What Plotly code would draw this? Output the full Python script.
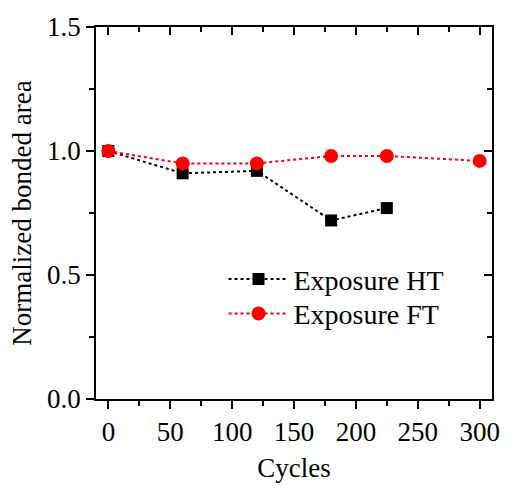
import plotly.graph_objects as go

# Bonded-area retention under two exposure regimes
cycles_ht = [0, 60, 120, 180, 225]
area_ht = [1.00, 0.91, 0.92, 0.72, 0.77]

cycles_ft = [0, 60, 120, 180, 225, 300]
area_ft = [1.00, 0.95, 0.95, 0.98, 0.98, 0.96]

x_ticks = [0, 50, 100, 150, 200, 250, 300]
y_ticks = [0.0, 0.5, 1.0, 1.5]
y_tick_text = ["0.0", "0.5", "1.0", "1.5"]

FONT = "Liberation Serif, Times New Roman, serif"
X_RANGE = [-10, 310]
Y_RANGE = [0, 1.5]

fig = go.Figure()
fig.add_trace(go.Scatter(
    x=cycles_ht, y=area_ht, name="Exposure HT", mode="lines+markers",
    line=dict(color="black", width=2, dash="dot"),
    marker=dict(symbol="square", size=12, color="black"),
    legend="legend",
))
fig.add_trace(go.Scatter(
    x=cycles_ft, y=area_ft, name="Exposure FT", mode="lines+markers",
    line=dict(color="red", width=2, dash="dot"),
    marker=dict(symbol="circle", size=14, color="red"),
    legend="legend2",
))
# empty trace to bring the top/right frame axes into the figure
fig.add_trace(go.Scatter(x=[], y=[], xaxis="x2", yaxis="y2", showlegend=False))

legend_style = dict(
    xanchor="left", yanchor="middle", bgcolor="rgba(0,0,0,0)",
    font=dict(size=28, family=FONT), itemwidth=60,
)

fig.update_layout(
    width=512, height=490,
    margin=dict(l=96, r=14, t=22, b=89),
    paper_bgcolor="white", plot_bgcolor="white",
    font=dict(family=FONT, size=27, color="black"),
    showlegend=True,
    legend=dict(x=0.322, y=0.322, **legend_style),
    legend2=dict(x=0.322, y=0.229, **legend_style),
    xaxis=dict(
        range=X_RANGE, tickvals=x_ticks, ticks="outside", ticklen=8,
        tickwidth=1.5, tickcolor="black", showline=True, linecolor="black",
        linewidth=1.5, showgrid=False, zeroline=False,
        minor=dict(ticks="outside", ticklen=5, dtick=25, tick0=0,
                   tickcolor="black", tickwidth=1.5),
        title=dict(text="Cycles", font=dict(size=27, family=FONT), standoff=12),
        tickfont=dict(size=27, family=FONT),
    ),
    yaxis=dict(
        range=Y_RANGE, tickvals=y_ticks, ticktext=y_tick_text,
        ticks="outside", ticklen=8, tickwidth=1.5, tickcolor="black",
        showline=True, linecolor="black", linewidth=1.5,
        showgrid=False, zeroline=False,
        minor=dict(ticks="outside", ticklen=5, dtick=0.25, tick0=0,
                   tickcolor="black", tickwidth=1.5),
        title=dict(text="Normalized bonded area", font=dict(size=27, family=FONT),
                   standoff=8),
        tickfont=dict(size=27, family=FONT),
    ),
    xaxis2=dict(
        overlaying="x", side="top", range=X_RANGE, tickvals=x_ticks,
        ticks="inside", ticklen=8, tickwidth=1.5, tickcolor="black",
        showticklabels=False, showline=True, linecolor="black", linewidth=1.5,
        showgrid=False, zeroline=False,
        minor=dict(ticks="inside", ticklen=5, dtick=25, tick0=0,
                   tickcolor="black", tickwidth=1.5),
    ),
    yaxis2=dict(
        overlaying="y", side="right", range=Y_RANGE, tickvals=y_ticks,
        ticks="inside", ticklen=8, tickwidth=1.5, tickcolor="black",
        showticklabels=False, showline=True, linecolor="black", linewidth=1.5,
        showgrid=False, zeroline=False,
        minor=dict(ticks="inside", ticklen=5, dtick=0.25, tick0=0,
                   tickcolor="black", tickwidth=1.5),
    ),
)

fig.write_html("out.html")
